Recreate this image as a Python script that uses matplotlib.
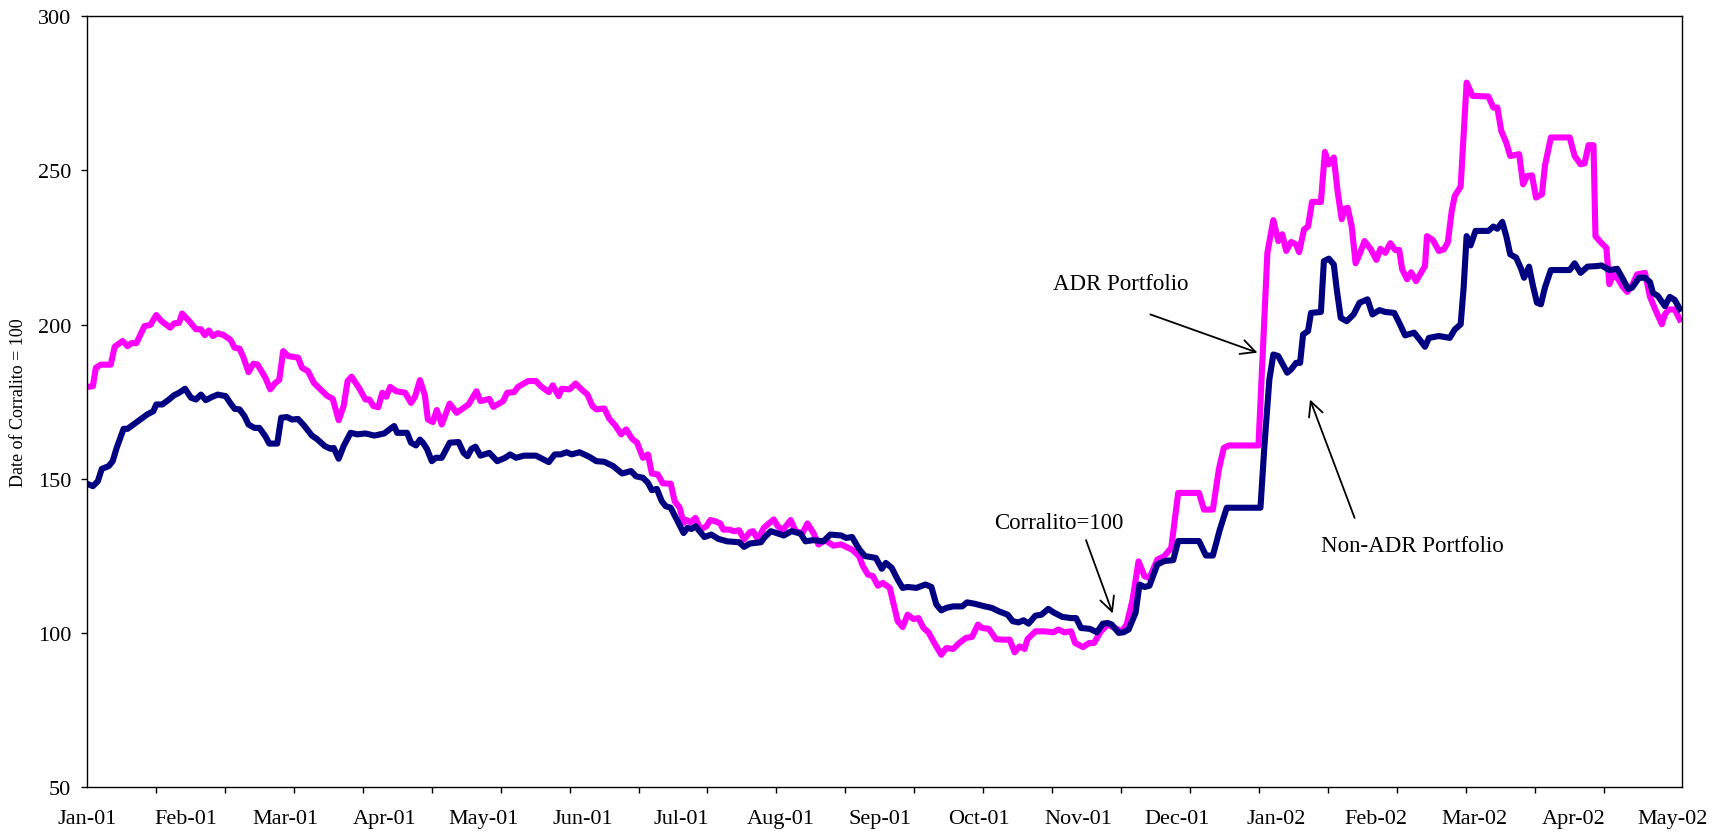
import matplotlib
matplotlib.use('Agg')
import matplotlib.pyplot as plt
import numpy as np

# time axis in months since Jan-01 (0 = Jan-01, 16 = May-02)
month_labels = ['Jan-01', 'Feb-01', 'Mar-01', 'Apr-01', 'May-01', 'Jun-01',
                'Jul-01', 'Aug-01', 'Sep-01', 'Oct-01', 'Nov-01', 'Dec-01',
                'Jan-02', 'Feb-02', 'Mar-02', 'Apr-02', 'May-02']

# ADR portfolio (index, date of corralito = 100)
adr_t = [0.00, 0.06, 0.09, 0.14, 0.24, 0.28, 0.36, 0.41, 0.45, 0.50, 0.58, 0.64,
         0.70, 0.75, 0.84, 0.88, 0.93, 0.96, 1.03, 1.10, 1.15, 1.19, 1.23, 1.27,
         1.32, 1.38, 1.45, 1.49, 1.54, 1.58, 1.63, 1.68, 1.72, 1.80, 1.85, 1.90,
         1.94, 1.98, 2.03, 2.13, 2.17, 2.23, 2.29, 2.34, 2.42, 2.48, 2.54, 2.59,
         2.63, 2.67, 2.75, 2.81, 2.85, 2.89, 2.94, 2.98, 3.02, 3.06, 3.12, 3.21,
         3.27, 3.31, 3.36, 3.41, 3.44, 3.49, 3.53, 3.58, 3.66, 3.73, 3.85, 3.93,
         3.97, 4.06, 4.10, 4.20, 4.24, 4.31, 4.35, 4.45, 4.53, 4.58, 4.66, 4.70,
         4.76, 4.79, 4.87, 4.93, 4.99, 5.05, 5.10, 5.14, 5.22, 5.27, 5.33, 5.39,
         5.44, 5.50, 5.55, 5.61, 5.66, 5.70, 5.76, 5.81, 5.89, 5.93, 5.98, 6.02,
         6.05, 6.09, 6.14, 6.19, 6.25, 6.29, 6.34, 6.39, 6.42, 6.48, 6.53, 6.58,
         6.63, 6.69, 6.72, 6.77, 6.83, 6.88, 6.93, 6.97, 7.02, 7.10, 7.15, 7.22,
         7.27, 7.33, 7.38, 7.45, 7.53, 7.61, 7.66, 7.72, 7.79, 7.83, 7.88, 7.93,
         7.98, 8.03, 8.10, 8.14, 8.18, 8.23, 8.28, 8.34, 8.39, 8.44, 8.49, 8.55,
         8.62, 8.67, 8.74, 8.80, 8.87, 8.93, 8.99, 9.03, 9.10, 9.17, 9.24, 9.31,
         9.36, 9.41, 9.46, 9.49, 9.57, 9.66, 9.75, 9.80, 9.86, 9.93, 9.97, 10.05,
         10.11, 10.16, 10.23, 10.30, 10.37, 10.44, 10.49, 10.55, 10.61, 10.67, 10.72, 10.80,
         10.87, 10.94, 11.01, 11.22, 11.27, 11.36, 11.42, 11.47, 11.52, 11.82, 11.91, 11.97,
         12.02, 12.06, 12.10, 12.15, 12.20, 12.23, 12.28, 12.32, 12.36, 12.45, 12.49, 12.53,
         12.58, 12.62, 12.66, 12.69, 12.72, 12.76, 12.80, 12.84, 12.89, 12.95, 13.01, 13.05,
         13.10, 13.15, 13.20, 13.24, 13.27, 13.32, 13.36, 13.41, 13.50, 13.52, 13.58, 13.64,
         13.69, 13.73, 13.77, 13.80, 13.86, 13.92, 13.98, 14.14, 14.19, 14.23, 14.27, 14.32,
         14.36, 14.45, 14.49, 14.53, 14.58, 14.62, 14.68, 14.71, 14.77, 14.96, 15.01, 15.07,
         15.11, 15.15, 15.20, 15.22, 15.27, 15.33, 15.36, 15.40, 15.45, 15.49, 15.54, 15.59,
         15.64, 15.72, 15.77, 15.83, 15.89, 15.92, 15.96, 16.02, 16.07]
adr_v = [179.8, 180.0, 186.0, 187.0, 187.0, 192.8, 194.7, 193.0, 194.0, 194.0, 199.5, 199.9,
         203.1, 201.2, 199.0, 200.4, 200.6, 203.6, 201.2, 198.5, 198.5, 196.6, 198.1, 196.3,
         197.2, 196.6, 195.0, 192.5, 192.2, 189.3, 184.6, 187.3, 187.1, 182.8, 179.0, 181.1,
         182.0, 191.4, 189.8, 189.3, 186.0, 184.9, 181.1, 179.5, 177.0, 175.9, 169.0, 173.6,
         181.7, 183.1, 179.2, 175.7, 175.7, 173.6, 173.2, 177.9, 176.6, 179.8, 178.4, 177.9,
         174.6, 176.6, 182.0, 177.0, 169.2, 168.4, 172.3, 167.6, 174.4, 171.4, 174.1, 178.4,
         175.2, 175.9, 173.3, 175.2, 177.9, 178.1, 179.8, 181.7, 181.7, 180.0, 178.1, 180.3,
         176.8, 179.2, 179.0, 180.9, 179.0, 177.3, 173.6, 172.5, 172.8, 169.5, 167.3, 164.4,
         166.0, 163.0, 161.7, 156.8, 157.9, 151.7, 151.4, 148.5, 148.4, 142.7, 140.6, 135.7,
         136.6, 135.9, 137.3, 133.5, 134.6, 136.6, 136.2, 135.5, 133.5, 133.5, 133.0, 133.3,
         130.3, 132.7, 133.0, 130.3, 134.1, 135.5, 136.8, 134.6, 133.3, 136.6, 133.0, 132.4,
         135.5, 132.4, 128.7, 130.1, 128.3, 128.7, 127.9, 127.0, 124.9, 121.6, 118.9, 118.4,
         115.3, 116.2, 114.6, 109.2, 103.8, 101.9, 105.9, 104.5, 104.8, 101.6, 100.2, 96.7,
         92.9, 95.1, 94.8, 96.7, 98.4, 98.7, 102.7, 101.6, 101.3, 98.0, 97.8, 97.8,
         93.7, 95.6, 94.8, 98.0, 100.5, 100.5, 100.2, 101.1, 100.2, 100.5, 96.7, 95.4,
         96.7, 96.7, 100.5, 102.7, 101.6, 100.5, 102.7, 110.8, 123.2, 118.4, 117.8, 123.8,
         124.9, 127.6, 145.4, 145.4, 140.0, 140.0, 153.0, 160.0, 160.8, 160.8, 223.3, 233.9,
         227.1, 229.3, 223.9, 226.8, 226.0, 223.5, 230.9, 231.8, 239.8, 239.8, 256.0, 252.0,
         254.2, 242.8, 234.2, 237.6, 237.9, 232.0, 219.9, 222.8, 227.1, 224.6, 221.0, 224.6,
         223.3, 226.4, 224.2, 224.2, 217.9, 214.7, 217.0, 214.1, 219.0, 228.7, 227.4, 223.9,
         224.4, 226.6, 236.9, 241.7, 244.8, 278.5, 274.2, 274.0, 270.4, 270.4, 262.8, 259.0,
         254.7, 255.3, 245.5, 248.2, 248.4, 241.2, 242.3, 251.5, 260.7, 260.7, 254.7, 252.0,
         252.3, 258.2, 258.2, 228.7, 226.8, 224.9, 213.1, 216.3, 214.7, 212.5, 210.6, 212.7,
         216.3, 216.8, 209.0, 204.4, 200.1, 203.3, 204.9, 204.9, 201.7]

# Non-ADR portfolio
non_adr_t = [0.00, 0.06, 0.11, 0.15, 0.22, 0.26, 0.30, 0.37, 0.41, 0.53, 0.61, 0.67,
             0.70, 0.76, 0.82, 0.88, 0.93, 0.99, 1.05, 1.10, 1.15, 1.20, 1.26, 1.32,
             1.40, 1.45, 1.49, 1.54, 1.59, 1.63, 1.69, 1.74, 1.80, 1.84, 1.92, 1.96,
             2.02, 2.07, 2.13, 2.19, 2.27, 2.32, 2.40, 2.46, 2.49, 2.54, 2.59, 2.66,
             2.73, 2.81, 2.90, 3.00, 3.06, 3.10, 3.13, 3.23, 3.27, 3.32, 3.36, 3.39,
             3.43, 3.48, 3.52, 3.58, 3.66, 3.75, 3.80, 3.84, 3.88, 3.92, 3.97, 4.06,
             4.14, 4.22, 4.27, 4.33, 4.41, 4.53, 4.66, 4.72, 4.78, 4.84, 4.89, 4.97,
             5.07, 5.14, 5.22, 5.31, 5.40, 5.49, 5.54, 5.61, 5.66, 5.70, 5.75, 5.80,
             5.84, 5.89, 5.95, 6.02, 6.06, 6.10, 6.14, 6.23, 6.30, 6.37, 6.46, 6.58,
             6.63, 6.69, 6.80, 6.84, 6.90, 7.03, 7.11, 7.20, 7.25, 7.33, 7.43, 7.50,
             7.61, 7.66, 7.72, 7.77, 7.80, 7.85, 7.91, 7.96, 8.02, 8.06, 8.12, 8.18,
             8.23, 8.28, 8.37, 8.46, 8.52, 8.57, 8.62, 8.67, 8.74, 8.83, 8.88, 8.95,
             9.06, 9.13, 9.20, 9.29, 9.34, 9.40, 9.45, 9.50, 9.57, 9.63, 9.70, 9.75,
             9.84, 9.93, 9.98, 10.03, 10.12, 10.19, 10.25, 10.30, 10.34, 10.41, 10.46, 10.51,
             10.58, 10.62, 10.67, 10.72, 10.80, 10.87, 10.96, 11.01, 11.22, 11.29, 11.36, 11.43,
             11.50, 11.84, 11.88, 11.93, 11.97, 12.02, 12.11, 12.15, 12.20, 12.24, 12.27, 12.32,
             12.35, 12.45, 12.48, 12.53, 12.58, 12.61, 12.65, 12.71, 12.78, 12.84, 12.92, 12.97,
             13.04, 13.10, 13.19, 13.24, 13.30, 13.39, 13.45, 13.50, 13.54, 13.64, 13.75, 13.80,
             13.86, 13.89, 13.92, 13.96, 14.01, 14.14, 14.19, 14.23, 14.28, 14.32, 14.36, 14.42,
             14.47, 14.50, 14.55, 14.59, 14.63, 14.67, 14.71, 14.77, 14.96, 15.01, 15.07, 15.14,
             15.24, 15.28, 15.36, 15.44, 15.49, 15.55, 15.59, 15.66, 15.72, 15.77, 15.80, 15.85,
             15.92, 15.97, 16.02, 16.07]
non_adr_v = [148.4, 147.6, 149.2, 153.2, 154.1, 155.7, 160.0, 166.2, 166.2, 169.0, 170.9, 171.9,
             174.1, 174.1, 175.5, 177.1, 177.9, 179.2, 176.3, 175.7, 177.3, 175.5, 176.5, 177.3,
             176.8, 174.4, 172.7, 172.5, 170.3, 167.6, 166.5, 166.5, 163.8, 161.4, 161.4, 169.8,
             170.0, 169.2, 169.4, 167.3, 164.0, 162.9, 160.6, 159.7, 160.0, 156.5, 160.6, 164.9,
             164.4, 164.7, 164.0, 164.7, 166.2, 167.1, 164.9, 164.9, 161.7, 160.8, 162.7, 161.7,
             159.7, 155.7, 156.8, 156.8, 161.7, 161.9, 158.4, 157.3, 159.7, 160.4, 157.5, 158.4,
             155.7, 156.8, 157.9, 156.8, 157.5, 157.5, 155.4, 157.9, 157.9, 158.6, 157.9, 158.6,
             157.1, 155.7, 155.5, 154.1, 151.7, 152.5, 150.8, 150.3, 148.7, 146.3, 146.7, 142.7,
             141.1, 140.6, 136.8, 132.4, 134.1, 133.7, 134.6, 131.1, 131.9, 130.5, 129.7, 129.4,
             127.9, 129.0, 129.4, 131.1, 133.0, 131.6, 133.0, 132.2, 129.7, 130.1, 129.7, 131.9,
             131.6, 130.8, 131.1, 128.3, 126.8, 124.9, 124.6, 124.3, 120.8, 122.7, 121.1, 117.3,
             114.6, 114.9, 114.6, 115.7, 114.9, 109.2, 107.3, 108.1, 108.6, 108.6, 109.9, 109.5,
             108.6, 108.1, 107.0, 105.9, 103.8, 103.4, 104.1, 103.0, 105.6, 105.9, 107.8, 106.7,
             105.2, 104.8, 104.8, 101.6, 101.3, 100.2, 103.0, 103.2, 102.7, 100.0, 100.2, 101.1,
             106.5, 115.7, 114.9, 115.3, 122.2, 123.3, 123.6, 129.8, 129.8, 125.1, 125.1, 133.5,
             140.6, 140.6, 160.6, 182.2, 190.3, 189.8, 184.4, 185.5, 187.6, 187.6, 196.8, 197.9,
             203.8, 204.1, 220.6, 221.4, 219.5, 211.4, 202.2, 201.1, 203.3, 207.1, 208.2, 203.3,
             204.7, 204.1, 203.8, 200.6, 196.5, 197.4, 195.0, 192.8, 195.7, 196.3, 195.7, 198.4,
             200.1, 212.0, 228.7, 225.7, 230.4, 230.4, 231.8, 231.1, 233.3, 228.7, 222.8, 221.7,
             218.1, 215.2, 218.8, 212.5, 207.1, 206.6, 212.0, 217.7, 217.7, 219.9, 216.8, 218.8,
             219.0, 219.2, 217.7, 218.1, 215.2, 211.6, 212.0, 215.2, 215.2, 213.8, 210.3, 209.3,
             206.0, 209.0, 208.0, 205.1]

plt.rcParams['font.family'] = ['Liberation Serif', 'DejaVu Serif']

fig = plt.figure(figsize=(17.28, 8.37), dpi=100)
ax = fig.add_axes([0.0503, 0.0585, 0.9229, 0.9208])

ax.plot(adr_t, adr_v, color='#FF00FF', lw=4.4, solid_joinstyle='round')
ax.plot(non_adr_t, non_adr_v, color='#000080', lw=4.4, solid_joinstyle='round')

ax.set_xlim(0, 16.09)
ax.set_ylim(50, 300)
ax.set_yticks(range(50, 301, 50))
ax.set_xticks(range(len(month_labels)))
ax.set_xticklabels(month_labels)
ax.set_xticks(np.linspace(0, 16, 24), minor=True)
ax.tick_params(axis='x', which='major', length=0, pad=16, labelsize=16)
ax.tick_params(axis='x', which='minor', length=4.3, width=1)
ax.tick_params(axis='y', length=4.3, width=1, pad=7, labelsize=16)
for s in ax.spines.values():
    s.set_linewidth(1.0)
ax.set_ylabel('Date of Corralito = 100', fontsize=13, labelpad=8)

# annotations
arrow = dict(arrowstyle='->', lw=1.3, color='black', mutation_scale=26,
             shrinkA=0, shrinkB=0)
ax.text(10.43, 211.7, 'ADR Portfolio', ha='center', va='baseline', fontsize=16.5)
ax.annotate('', xy=(11.81, 190.9), xytext=(10.73, 203.3), arrowprops=arrow)
ax.text(13.37, 126.5, 'Non-ADR Portfolio', ha='center', va='baseline', fontsize=16.5)
ax.annotate('', xy=(12.34, 175.7), xytext=(12.79, 137.3), arrowprops=arrow)
ax.text(9.81, 134.1, 'Corralito=100', ha='center', va='baseline', fontsize=16.5)
ax.annotate('', xy=(10.35, 106.3), xytext=(10.08, 130.1), arrowprops=arrow)

fig.savefig('out.png', dpi=100)
